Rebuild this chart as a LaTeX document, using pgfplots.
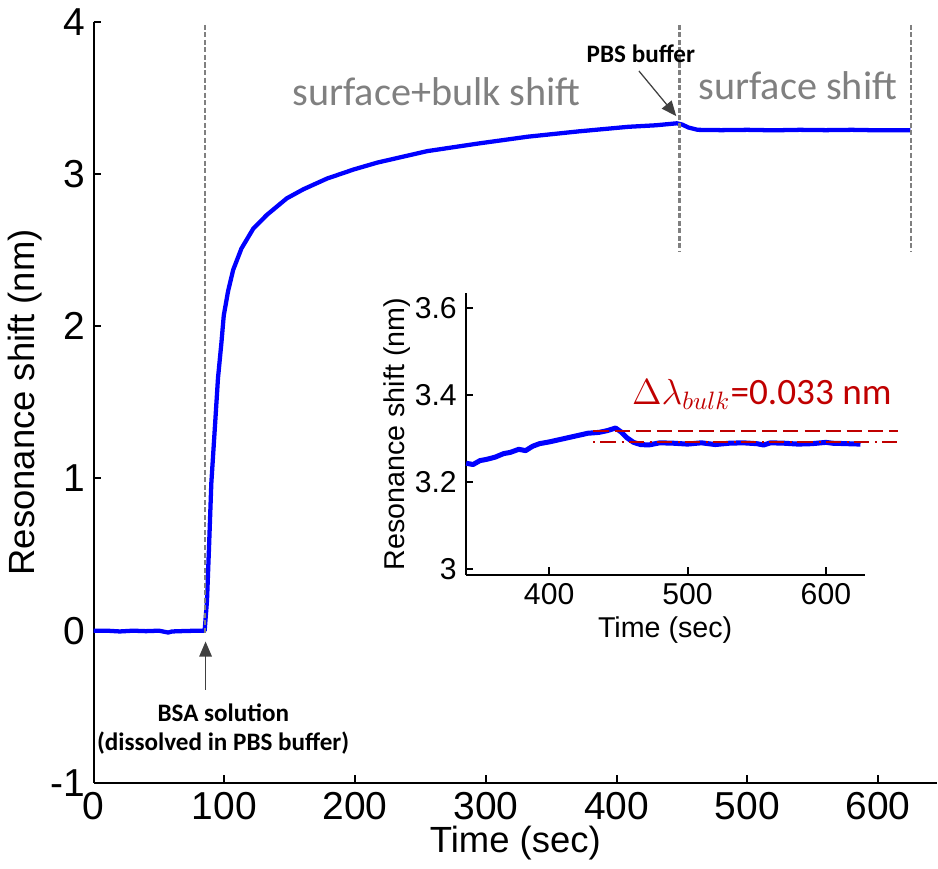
\documentclass[border=0pt]{standalone}
\usepackage{fontspec}
\usepackage{pgfplots}
\pgfplotsset{compat=1.18}
\usetikzlibrary{arrows.meta}
\setmainfont{Liberation Sans}
\newfontfamily\calf{Carlito}
\definecolor{mblue}{RGB}{0,0,255}
\definecolor{dred}{RGB}{192,0,0}
\definecolor{lgray}{RGB}{128,128,128}
\definecolor{agray}{RGB}{64,64,64}
\begin{document}
\begin{tikzpicture}
\begin{axis}[
  name=main, scale only axis, width=335.6pt, height=302.9pt,
  xmin=0, xmax=645, ymin=-1, ymax=4,
  axis lines=left, axis line style={-, line width=0.8pt, black},
  tick align=inside, major tick length=3pt, tick style={line width=0.8pt, black},
  xtick={0,100,...,600}, ytick={-1,0,...,4},
  /pgf/number format/assume math mode=true,
  tick label style={font=\fontsize{15.5}{18}\selectfont},
  label style={font=\fontsize{14.5}{17}\selectfont},
  xlabel={Time (sec)}, ylabel={Resonance shift (nm)},
  xlabel style={at={(axis description cs:0.5,-0.079)}, anchor=center},
  ylabel style={at={(axis description cs:-0.081,0.5)}, anchor=center},
  clip=false,
]
\addplot[mblue, line width=1.7pt, line join=round] coordinates {
(0,0.0) (10,0.0) (20,-0.005) (30,0.0) (40,-0.003) (50,0.0) (57,-0.012) (60,-0.005) (70,-0.002) (80,0.0) (84.9,0.0)
(86.7,0.20) (88.2,0.54) (90,0.97) (92.6,1.32) (95.1,1.66) (97.7,1.89) (99.5,2.07) (102.8,2.23) (106.7,2.37)
(113,2.51) (122,2.64) (132.3,2.73) (147.7,2.84) (160.5,2.90) (178.5,2.97) (199,3.03) (217,3.075) (255,3.15)
(294,3.20) (332,3.245) (371,3.28) (409,3.31) (430,3.32) (446,3.333) (450,3.325) (455,3.305) (462,3.29)
(480,3.288) (500,3.29) (520,3.287) (540,3.29) (560,3.288) (580,3.29) (600,3.287) (624.6,3.288)
};
\addplot[lgray, line width=0.9pt, dash pattern=on 2pt off 1pt] coordinates {(85,3.98) (85,-0.02)};
\addplot[lgray, line width=0.9pt, dash pattern=on 2pt off 1pt] coordinates {(448,3.98) (448,2.49)};
\addplot[lgray, line width=0.9pt, dash pattern=on 2pt off 1pt] coordinates {(625,3.98) (625,2.49)};
\node[lgray, font=\calf\fontsize{16}{19}\selectfont] at (axis cs:262.3,3.54) {surface+bulk shift};
\node[lgray, font=\calf\fontsize{16}{19}\selectfont] at (axis cs:538.5,3.58) {surface shift};
\node[font=\calf\bfseries\fontsize{10}{12}\selectfont] at (axis cs:418.5,3.787) {PBS buffer};
\draw[agray, line width=0.5pt, -{Triangle[length=6pt,width=5pt]}] (axis cs:417,3.677) -- (axis cs:445.6,3.38);
\node[font=\calf\bfseries\fontsize{10}{12}\selectfont] at (axis cs:99.2,-0.541) {BSA solution};
\node[font=\calf\bfseries\fontsize{10}{12}\selectfont] at (axis cs:99,-0.741) {(dissolved in PBS buffer)};
\draw[agray, line width=0.5pt, -{Triangle[length=6pt,width=5pt]}] (axis cs:85.6,-0.387) -- (axis cs:85.6,-0.071);
\end{axis}
\begin{axis}[
  at={(148pt,82.8pt)}, anchor=south west,
  scale only axis, width=158.8pt, height=112pt,
  xmin=339.6, xmax=628, ymin=2.986, ymax=3.634,
  axis lines=left, axis line style={-, line width=0.8pt, black},
  tick align=inside, major tick length=3pt, tick style={line width=0.8pt, black},
  xtick={400,500,600}, ytick={3,3.2,3.4,3.6},
  /pgf/number format/assume math mode=true,
  tick label style={font=\fontsize{12}{14}\selectfont},
  label style={font=\fontsize{11.4}{14}\selectfont},
  xlabel={Time (sec)}, ylabel={Resonance shift (nm)},
  xlabel style={at={(axis description cs:0.5,-0.196)}, anchor=center},
  ylabel style={at={(axis description cs:-0.172,0.5)}, anchor=center},
  clip=false,
]
\addplot[mblue, line width=2pt, line join=round] coordinates {
(340,3.243) (345,3.240) (350,3.249) (355,3.252) (361,3.257) (367,3.265) (372,3.268) (378,3.275) (383,3.272)
(388,3.282) (393,3.288) (400,3.292) (407,3.297) (414,3.302) (421,3.307) (428,3.312) (436,3.314) (442,3.318)
(448,3.324) (452,3.315) (456,3.302) (461,3.291) (466,3.286) (472,3.285) (480,3.290) (490,3.289) (500,3.287)
(510,3.290) (520,3.286) (530,3.289) (540,3.290) (550,3.288) (555,3.285) (560,3.290) (570,3.289) (580,3.287)
(590,3.288) (600,3.291) (605,3.289) (615,3.288) (625,3.287)
};
\addplot[dred, line width=0.8pt, dash pattern=on 6pt off 2.4pt] coordinates {(432,3.318) (652,3.318)};
\addplot[dred, line width=0.8pt, dash pattern=on 0.8pt off 2pt on 6pt off 2.4pt] coordinates {(432,3.292) (652,3.292)};
\node[font=\calf\fontsize{14.8}{17}\selectfont, text=dred] at (axis cs:553.7,3.402) {$\Delta\lambda_{bulk}$=0.033 nm};
\end{axis}
\end{tikzpicture}
\end{document}
